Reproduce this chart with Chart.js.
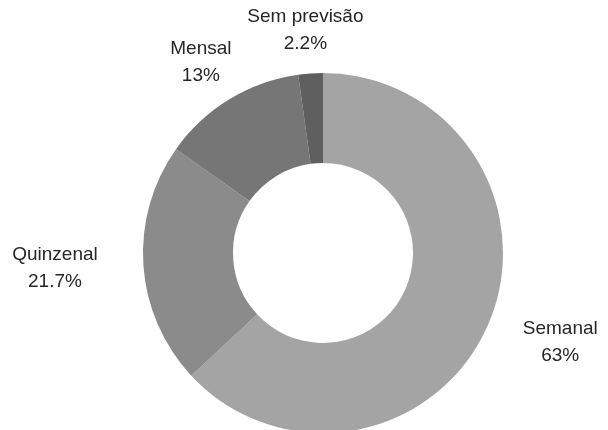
<!DOCTYPE html>
<html>
<head>
<meta charset="utf-8">
<script src="https://cdn.jsdelivr.net/npm/chart.js@4/dist/chart.umd.min.js"></script>
<style>
    html, body { margin: 0; padding: 0; background: #ffffff; overflow: hidden; }
    #wrap { position: relative; width: 608px; height: 440px; }
</style>
</head>
<body>
<div id="wrap"><canvas id="chartFrequencia"></canvas></div>
<script>
    // ========== DADOS ==========
    const categorias = ['Semanal', 'Quinzenal', 'Mensal', 'Sem previsão'];
    const valores = [63, 21.7, 13, 2.2];
    const rotulosPct = ['63%', '21.7%', '13%', '2.2%'];
    const cores = ['#a4a4a4', '#8b8b8b', '#767676', '#5f5f5f'];

    // rótulos fora do anel, ancorados pelo ângulo médio de cada fatia
    const outsideLabels = {
        id: 'outsideLabels',
        afterDraw(chart) {
            const ctx = chart.ctx;
            const meta = chart.getDatasetMeta(0);
            ctx.save();
            ctx.font = '19px "Liberation Sans", Arial, sans-serif';
            ctx.fillStyle = '#262626';
            ctx.textAlign = 'center';
            ctx.textBaseline = 'middle';
            const lineH = 27;
            meta.data.forEach((arc, i) => {
                const mid = (arc.startAngle + arc.endAngle) / 2;
                const dx = Math.cos(mid), dy = Math.sin(mid);
                const lines = [categorias[i], rotulosPct[i]];
                const w = Math.max(...lines.map(t => ctx.measureText(t).width));
                const h = lineH * lines.length;
                const rx = arc.outerRadius + 16 + 30 * dx * dx;
                const ry = arc.outerRadius + 16;
                const cx = arc.x + dx * (rx + w / 2);
                const cy = arc.y + dy * (ry + h / 2);
                lines.forEach((t, k) => {
                    ctx.fillText(t, cx, cy - h / 2 + lineH * (k + 0.5));
                });
            });
            ctx.restore();
        }
    };

    new Chart(document.getElementById('chartFrequencia'), {
        type: 'doughnut',
        data: {
            labels: categorias,
            datasets: [{
                data: valores,
                backgroundColor: cores,
                borderWidth: 0
            }]
        },
        options: {
            responsive: true,
            maintainAspectRatio: false,
            animation: false,
            cutout: '50%',
            layout: { padding: { top: 73, bottom: 7, left: 143, right: 105 } },
            plugins: {
                legend: { display: false },
                tooltip: { enabled: false }
            }
        },
        plugins: [outsideLabels]
    });
</script>
</body>
</html>
